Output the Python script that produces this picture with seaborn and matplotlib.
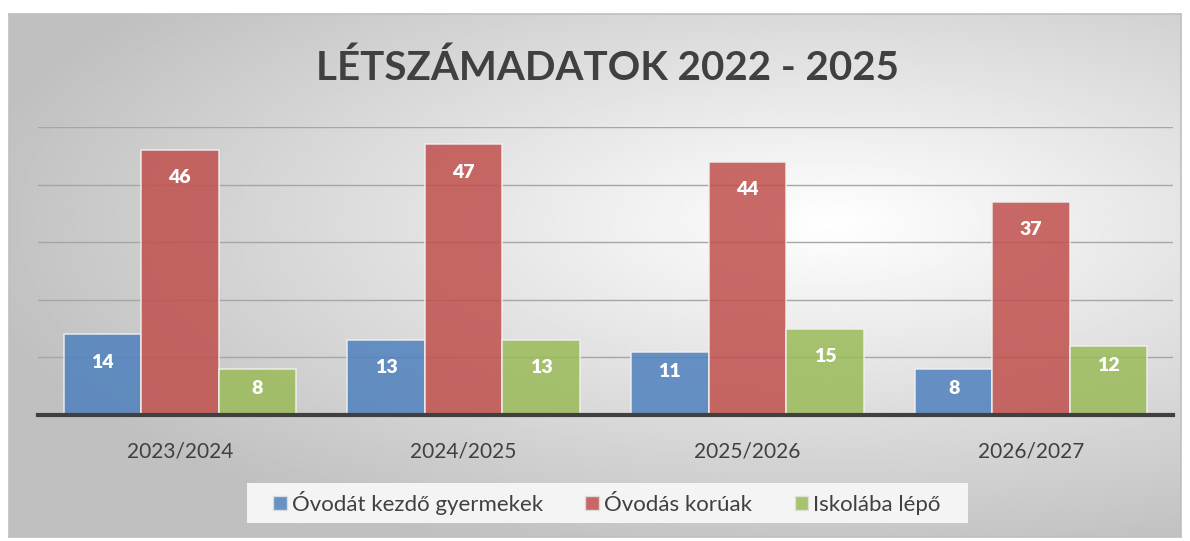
import numpy as np
import pandas as pd
import seaborn as sns
import matplotlib.pyplot as plt
from matplotlib.patches import Rectangle

years = ['2023/2024', '2024/2025', '2025/2026', '2026/2027']
series = ['Óvodát kezdő gyermekek', 'Óvodás korúak', 'Iskolába lépő']
kezdo = [14, 13, 11, 8]
korua = [46, 47, 44, 37]
iskola = [8, 13, 15, 12]
colors = ['#4f81bd', '#c0504d', '#9bbb59']

df = pd.DataFrame({
    'ev': years * 3,
    'sor': [series[0]] * 4 + [series[1]] * 4 + [series[2]] * 4,
    'ertek': kezdo + korua + iskola,
})

sns.set_theme(style='white')
plt.rcParams['font.family'] = ['Lato', 'DejaVu Sans']

W, H = 1190, 541
fig = plt.figure(figsize=(W / 100, H / 100), dpi=100)
fig.patch.set_facecolor('white')

# radial gradient background panel
bg = fig.add_axes([9 / W, 1 - 537 / H, (1181 - 9) / W, (537 - 14) / H])
yy, xx = np.mgrid[0:1:300j, 0:1:600j]
r = np.sqrt(((xx - 0.7) / 1.0) ** 2 + ((yy - 0.4) / 0.9) ** 2)
r = np.clip(r / 0.75, 0, 1)
bg.imshow(1 - 0.25 * r, cmap='gray', vmin=0, vmax=1, aspect='auto',
          extent=[0, 1, 0, 1], origin='upper')
bg.set_xticks([])
bg.set_yticks([])
for s in bg.spines.values():
    s.set_color('#bfbfbf')
    s.set_linewidth(1.2)

ax = fig.add_axes([38 / W, 1 - 415 / H, (1173 - 38) / W, (415 - 127) / H])
ax.patch.set_alpha(0)

sns.barplot(data=df, x='ev', y='ertek', hue='sor', palette=colors,
            saturation=1, width=0.82, alpha=0.85, edgecolor='#f0f0f0',
            linewidth=1.2, ax=ax, legend=False)

ax.set_ylim(0, 50)
ax.set_yticks([10, 20, 30, 40, 50])
ax.yaxis.grid(True, color='#a6a6a6', linewidth=1)
ax.set_axisbelow(True)
ax.tick_params(axis='y', left=False, labelleft=False)
ax.tick_params(axis='x', bottom=False, labelsize=15, labelcolor='#404040', pad=13)
ax.set_xlabel('')
ax.set_ylabel('')
for s in ['top', 'right', 'left']:
    ax.spines[s].set_visible(False)
ax.spines['bottom'].set_color('#404040')
ax.spines['bottom'].set_linewidth(3)

for cont in ax.containers:
    for p in cont:
        h = p.get_height()
        off = -20 if h > 12 else -14
        ax.annotate(f'{h:.0f}', (p.get_x() + p.get_width() / 2, h),
                    xytext=(0, off), textcoords='offset points',
                    ha='center', va='center', color='white',
                    fontsize=14, fontweight='heavy')

fig.text(607 / W, 1 - 68 / H, 'LÉTSZÁMADATOK 2022 - 2025', ha='center', va='center',
         fontsize=29, fontweight='bold', color='#404040')

# legend box
fig.patches.append(Rectangle((247 / W, 1 - 523 / H), (968 - 247) / W, 40 / H,
                             transform=fig.transFigure, facecolor='#f4f4f4',
                             edgecolor='none', zorder=0))
handles = [Rectangle((0, 0), 1, 1, facecolor=c, alpha=0.85, edgecolor='#e0e0e0')
           for c in colors]
fig.legend(handles, series, loc='center', bbox_to_anchor=(607 / W, 1 - 503 / H),
           ncol=3, frameon=False, fontsize=16, labelcolor='#404040',
           handlelength=0.6, handleheight=0.6, handletextpad=0.25, columnspacing=1.9)

fig.savefig('out.png', dpi=100)
